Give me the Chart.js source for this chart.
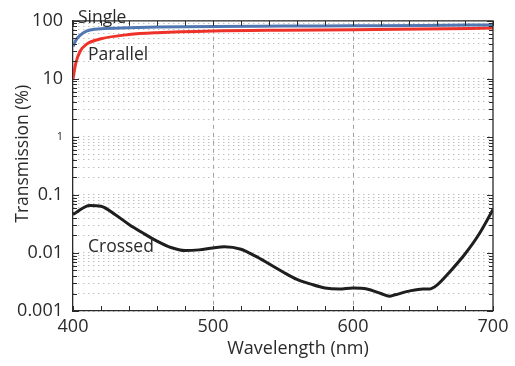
<!DOCTYPE html>
<html>
<head>
<meta charset="utf-8">
<script src="https://cdn.jsdelivr.net/npm/chart.js@4/dist/chart.umd.min.js"></script>
<style>
  html, body { margin: 0; padding: 0; background: #fff; }
  #wrap { width: 515px; height: 366px; }
</style>
</head>
<body>
<div id="wrap"><canvas id="chart"></canvas></div>
<script>
// transmission spectra, wavelength in nm, transmission in %
const singleNm = [400, 402, 405, 410, 420, 440, 460, 500, 550, 600, 650, 700];
const singleT = [36, 46, 56, 67, 73, 76, 78, 80, 81, 82, 83, 85];

const parallelNm = [400, 402, 405, 410, 420, 440, 460, 500, 550, 600, 650, 700];
const parallelT = [10, 18.6, 29.6, 40, 49, 58, 62.5, 67, 69, 70, 72, 75];

const crossedNm = [400, 412, 420, 430, 440, 450, 460, 470, 480, 490, 500, 508, 520, 530, 540, 550,
  560, 570, 580, 590, 600, 610, 620, 626, 630, 640, 650, 655, 660, 670, 680, 690, 700];
const crossedT = [0.046, 0.066, 0.064, 0.046, 0.031, 0.022, 0.016, 0.0124, 0.011, 0.0113, 0.0122, 0.0128,
  0.0116, 0.0089, 0.0065, 0.0047, 0.0035, 0.0029, 0.0025, 0.0024, 0.0025, 0.0024, 0.0020, 0.0018, 0.0019,
  0.0022, 0.0024, 0.0024, 0.0028, 0.005, 0.0096, 0.021, 0.056];

const xTickLabels = [400, 500, 600, 700];
const xMinorTicks = [400, 420, 440, 460, 480, 500, 520, 540, 560, 580, 600, 620, 640, 660, 680, 700];
const yDecades = [0.001, 0.01, 0.1, 1, 10, 100];
const yTickLabels = ['0.001', '0.01', '0.1', '1', '10', '100'];

// 1..9 x each decade, used for grid lines and minor tick marks
const yGridValues = [];
yDecades.forEach((d, i) => {
  const steps = i === yDecades.length - 1 ? 1 : 9;
  for (let k = 1; k <= steps; k++) yGridValues.push(+(d * k).toPrecision(3));
});

const toPoints = (xs, ys) => xs.map((x, i) => ({ x: x, y: ys[i] }));

const FONT = '"Open Sans", "DejaVu Sans", sans-serif';
const INK = '#2a2a2a';

const curveLabels = [
  { text: 'Single', x: 403.5, y: 92 },
  { text: 'Parallel', x: 410.7, y: 21.5 },
  { text: 'Crossed', x: 410.7, y: 0.0105 },
];

// frame on top/right, inward tick marks, axis titles, curve names
const framePlugin = {
  id: 'frame',
  afterDraw(chart) {
    const { ctx, chartArea: a, scales: { x, y } } = chart;
    ctx.save();
    ctx.strokeStyle = INK;
    ctx.lineWidth = 1.3;
    ctx.beginPath();
    ctx.moveTo(a.left, a.top);
    ctx.lineTo(a.right, a.top);
    ctx.lineTo(a.right, a.bottom);
    ctx.stroke();

    ctx.lineWidth = 1;
    ctx.beginPath();
    xMinorTicks.forEach(v => {
      const px = Math.round(x.getPixelForValue(v)) + 0.5;
      ctx.moveTo(px, a.bottom); ctx.lineTo(px, a.bottom - 5);
      ctx.moveTo(px, a.top); ctx.lineTo(px, a.top + 5);
    });
    yGridValues.forEach(v => {
      const py = Math.round(y.getPixelForValue(v)) + 0.5;
      const len = yDecades.includes(v) ? 6 : 4;
      ctx.moveTo(a.left, py); ctx.lineTo(a.left + len, py);
      ctx.moveTo(a.right, py); ctx.lineTo(a.right - len, py);
    });
    ctx.stroke();

    ctx.fillStyle = INK;
    ctx.textBaseline = 'middle';
    ctx.textAlign = 'center';
    ctx.font = '18px ' + FONT;
    ctx.fillText('Wavelength (nm)', a.left + 225, a.bottom + 38);
    ctx.save();
    ctx.translate(23, a.top + 133);
    ctx.rotate(-Math.PI / 2);
    ctx.font = '17.5px ' + FONT;
    ctx.fillText('Transmission (%)', 0, 0);
    ctx.restore();

    ctx.font = '17.5px ' + FONT;
    ctx.textBaseline = 'alphabetic';
    ctx.textAlign = 'left';
    curveLabels.forEach(l => {
      ctx.fillText(l.text, x.getPixelForValue(l.x), y.getPixelForValue(l.y));
    });
    ctx.restore();
  }
};

new Chart(document.getElementById('chart'), {
  type: 'line',
  data: {
    datasets: [
      {
        label: 'Single',
        data: toPoints(singleNm, singleT),
        borderColor: '#5177b3',
        borderWidth: 3,
        cubicInterpolationMode: 'monotone',
      },
      {
        label: 'Parallel',
        data: toPoints(parallelNm, parallelT),
        borderColor: '#ee3229',
        borderWidth: 3,
        cubicInterpolationMode: 'monotone',
      },
      {
        label: 'Crossed',
        data: toPoints(crossedNm, crossedT),
        borderColor: '#1e1e1e',
        borderWidth: 3,
        cubicInterpolationMode: 'monotone',
      },
    ],
  },
  options: {
    responsive: true,
    maintainAspectRatio: false,
    animation: false,
    elements: { point: { radius: 0 } },
    layout: { padding: { top: 17, right: 22, left: 0, bottom: 0 } },
    plugins: { legend: { display: false }, tooltip: { enabled: false } },
    scales: {
      x: {
        type: 'linear',
        min: 400,
        max: 700,
        afterFit: (s) => { s.height = 55; },
        afterBuildTicks: (s) => { s.ticks = xTickLabels.map(v => ({ value: v })); },
        ticks: {
          color: INK,
          padding: 5,
          font: { family: FONT, size: 18 },
          maxRotation: 0,
          autoSkip: false,
        },
        grid: {
          drawTicks: false,
          color: (c) => (c.tick && (c.tick.value === 500 || c.tick.value === 600)) ? '#a0a0a0' : 'rgba(0,0,0,0)',
          lineWidth: 1,
        },
        border: { display: true, color: INK, width: 1.3, dash: [4, 4] },
      },
      y: {
        type: 'logarithmic',
        min: 0.001,
        max: 100,
        afterFit: (s) => { s.width = 73; },
        afterBuildTicks: (s) => { s.ticks = yGridValues.map(v => ({ value: v })); },
        ticks: {
          color: INK,
          padding: 10,
          autoSkip: false,
          font: (c) => ({ family: FONT, size: (c.tick && c.tick.value === 1) ? 11 : 18 }),
          callback: (v) => {
            const i = yDecades.indexOf(v);
            return i >= 0 ? yTickLabels[i] : '';
          },
        },
        grid: {
          drawTicks: false,
          color: '#a4a4a4',
          lineWidth: 1,
        },
        border: { display: true, color: INK, width: 1.3, dash: [1, 4] },
      },
    },
  },
  plugins: [framePlugin],
});
</script>
</body>
</html>
